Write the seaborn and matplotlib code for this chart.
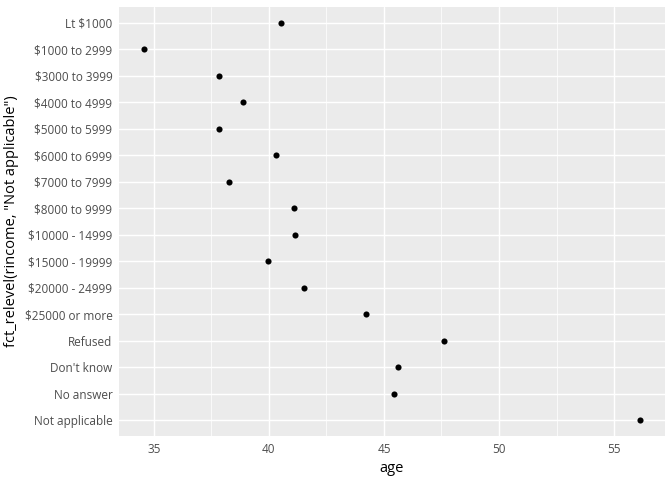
import matplotlib
matplotlib.use("Agg")
import matplotlib.pyplot as plt
import seaborn as sns
import pandas as pd
from matplotlib.ticker import MultipleLocator

# income levels, top to bottom as shown
rincome = ["Lt $1000", "$1000 to 2999", "$3000 to 3999", "$4000 to 4999",
           "$5000 to 5999", "$6000 to 6999", "$7000 to 7999", "$8000 to 9999",
           "$10000 - 14999", "$15000 - 19999", "$20000 - 24999", "$25000 or more",
           "Refused", "Don't know", "No answer", "Not applicable"]
# mean age per income level
age = [40.52, 34.57, 37.83, 38.87, 37.83, 40.30, 38.26, 41.09,
       41.13, 39.96, 41.52, 44.22, 47.61, 45.61, 45.43, 56.13]

df = pd.DataFrame({"rincome": rincome, "age": age})
df["rincome"] = pd.Categorical(df["rincome"], categories=rincome, ordered=True)

sns.set_style("darkgrid", {"axes.facecolor": "#EBEBEB", "grid.color": "white"})
plt.rcParams["font.family"] = ["Open Sans", "DejaVu Sans"]

fig = plt.figure(figsize=(7, 5), dpi=96)
ax = fig.add_axes([119 / 672, 1 - 436 / 480, (665 - 119) / 672, (436 - 7) / 480])

sns.stripplot(data=df, x="age", y="rincome", order=rincome, jitter=False,
              color="black", size=4.6, linewidth=0, ax=ax, zorder=3)

n = len(rincome)
ax.set_ylim(n - 1 + 0.6, -0.6)
lo, hi = min(age), max(age)
pad = (hi - lo) * 0.05
ax.set_xlim(lo - pad, hi + pad)

ax.xaxis.set_major_locator(MultipleLocator(5))
ax.xaxis.set_minor_locator(MultipleLocator(2.5))
ax.grid(which="major", color="white", linewidth=1.07)
ax.grid(which="minor", axis="x", color="white", linewidth=0.53)
ax.set_axisbelow(True)
for s in ax.spines.values():
    s.set_visible(False)

ax.tick_params(axis="both", which="major", length=2.75, width=1.07, color="#333333",
               labelsize=8.8, labelcolor="#4D4D4D", pad=2.2)
ax.tick_params(axis="both", which="minor", length=0)

ax.set_xlabel("age", fontsize=11, color="black", labelpad=4)
ax.set_ylabel('fct_relevel(rincome, "Not applicable")', fontsize=11, color="black", labelpad=4)

fig.savefig("out.png", dpi=96)
